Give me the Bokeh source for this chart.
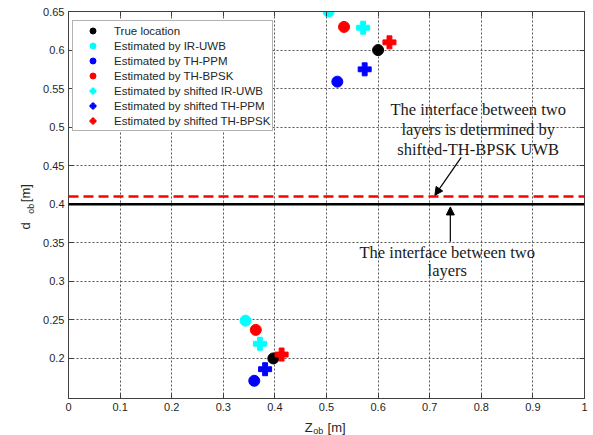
import math
from bokeh.plotting import figure
from bokeh.models import (Span, Label, Arrow, NormalHead, LinearAxis, FixedTicker,
                          Range1d, CustomJSTickFormatter)
from bokeh.embed import file_html
from bokeh.resources import INLINE

# ---- data ----
true_z = [0.600, 0.397]
true_d = [0.600, 0.200]
ir_z = [0.504, 0.343]
ir_d = [0.650, 0.249]
ppm_z = [0.521, 0.360]
ppm_d = [0.559, 0.171]
bpsk_z = [0.534, 0.363]
bpsk_d = [0.630, 0.237]
s_ir_z = [0.571, 0.371]
s_ir_d = [0.629, 0.219]
s_ppm_z = [0.574, 0.381]
s_ppm_d = [0.575, 0.186]
s_bpsk_z = [0.622, 0.413]
s_bpsk_d = [0.610, 0.205]

interface_true = 0.40
interface_est = 0.41

x_ticks = [0, 0.1, 0.2, 0.3, 0.4, 0.5, 0.6, 0.7, 0.8, 0.9, 1]
x_tick_labels = ["0", "0.1", "0.2", "0.3", "0.4", "0.5", "0.6", "0.7", "0.8", "0.9", "1"]
y_ticks = [0.2, 0.25, 0.3, 0.35, 0.4, 0.45, 0.5, 0.55, 0.6, 0.65]
y_tick_labels = ["0.2", "0.25", "0.3", "0.35", "0.4", "0.45", "0.5", "0.55", "0.6", "0.65"]

FONT = "Liberation Sans"
SERIF = "Liberation Serif"
TXT = "#262626"
AX = "#404040"

# frame: 518 x 387 px placed at (66, 11); extra bottom border holds the axis-label panels
p = figure(width=593, height=458, x_range=Range1d(0, 1), y_range=Range1d(0.148, 0.65),
           output_backend="svg", toolbar_location=None,
           min_border_left=66, min_border_right=9, min_border_top=11, min_border_bottom=60)
p.outline_line_color = AX
p.background_fill_color = "white"

for ax, ticks, labels in ((p.xaxis[0], x_ticks, x_tick_labels), (p.yaxis[0], y_ticks, y_tick_labels)):
    ax.ticker = FixedTicker(ticks=ticks)
    ax.major_label_overrides = {t: l for t, l in zip(ticks, labels)}
    ax.major_tick_in = 5
    ax.major_tick_out = 0
    ax.minor_tick_line_color = None
    ax.axis_line_color = AX
    ax.major_tick_line_color = AX
    ax.major_label_text_font = FONT
    ax.major_label_text_font_size = "11px"
    ax.major_label_text_color = TXT
    ax.major_label_standoff = 4

# mirrored ticks on top and right (box axes)
top = LinearAxis(ticker=FixedTicker(ticks=x_ticks), formatter=CustomJSTickFormatter(code="return ''"),
                 major_tick_in=5, major_tick_out=0, minor_tick_line_color=None,
                 axis_line_color=AX, major_tick_line_color=AX, major_label_standoff=0,
                 major_label_text_font_size="1px")
right = LinearAxis(ticker=FixedTicker(ticks=y_ticks), formatter=CustomJSTickFormatter(code="return ''"),
                   major_tick_in=5, major_tick_out=0, minor_tick_line_color=None,
                   axis_line_color=AX, major_tick_line_color=AX, major_label_standoff=0,
                   major_label_text_font_size="1px")
p.add_layout(top, "above")
p.add_layout(right, "right")

p.xgrid.ticker = FixedTicker(ticks=x_ticks[1:-1])
p.ygrid.ticker = FixedTicker(ticks=y_ticks[:-1])
for g in (p.xgrid[0], p.ygrid[0]):
    g.grid_line_color = "#555555"
    g.grid_line_dash = "2 2"
    g.grid_line_width = 1

# interface lines
p.add_layout(Span(location=interface_true, dimension="width", line_color="black", line_width=2.5))
p.add_layout(Span(location=interface_est, dimension="width", line_color="#ff0000",
                  line_width=2.5, line_dash="10 5"))

CS = 11
PS = 13
p.scatter(true_z, true_d, marker="circle", size=CS, color="black", legend_label="True location")
p.scatter(ir_z, ir_d, marker="circle", size=CS, color="#00ffff", legend_label="Estimated by IR-UWB")
p.scatter(ppm_z, ppm_d, marker="circle", size=CS, color="#0000ff", legend_label="Estimated by TH-PPM")
p.scatter(bpsk_z, bpsk_d, marker="circle", size=CS, color="#ff0000", legend_label="Estimated by TH-BPSK")
p.scatter(s_ir_z, s_ir_d, marker="plus", size=PS, color="#00ffff", legend_label="Estimated by shifted IR-UWB")
p.scatter(s_ppm_z, s_ppm_d, marker="plus", size=PS, color="#0000ff", legend_label="Estimated by shifted TH-PPM")
p.scatter(s_bpsk_z, s_bpsk_d, marker="plus", size=PS, color="#ff0000", legend_label="Estimated by shifted TH-BPSK")

lg = p.legend[0]
lg.location = (4, 267)
lg.margin = 0
lg.padding = 2
lg.spacing = 0
lg.label_height = 15
lg.glyph_height = 15
lg.glyph_width = 35
lg.label_standoff = 4
lg.label_text_font = FONT
lg.label_text_font_size = "11.5px"
lg.label_text_color = TXT
lg.border_line_color = "#666666"
lg.background_fill_color = "white"
lg.background_fill_alpha = 1

# annotations
def txt(x, y, s):
    p.add_layout(Label(x=x, y=y, text=s, text_align="center", text_baseline="middle",
                       text_font=SERIF, text_font_size="16.5px", text_color="#1a1a1a"))

txt(0.794, 0.5227, "The interface between two")
txt(0.794, 0.4969, "layers is determined by")
txt(0.794, 0.4711, "shifted-TH-BPSK UWB")
txt(0.734, 0.3371, "The interface between two")
txt(0.734, 0.3141, "layers")

p.add_layout(Arrow(end=NormalHead(size=8, fill_color="black", line_color="black"),
                   x_start=0.761, y_start=0.4607, x_end=0.710, y_end=0.4116,
                   line_color="black", line_width=1.2))
p.add_layout(Arrow(end=NormalHead(size=8, fill_color="black", line_color="black"),
                   x_start=0.740, y_start=0.3513, x_end=0.740, y_end=0.3965,
                   line_color="black", line_width=1.2))

# axis labels with subscripts: side-panel labels (not clipped), positioned through the scales
def xlab(x, y, s, size):
    p.add_layout(Label(x=x, y=y, text=s, text_align="left", text_baseline="alphabetic",
                       text_font=FONT, text_font_size=size, text_color=TXT), "below")

def ylab(x, y, s, size):
    p.add_layout(Label(x=x, y=y, text=s, angle=math.pi / 2,
                       text_align="left", text_baseline="alphabetic",
                       text_font=FONT, text_font_size=size, text_color=TXT), "left")

xlab(0.458, 0.1108, "Z", "13px")
xlab(0.4745, 0.1055, "ob", "9px")
xlab(0.502, 0.1104, "[m]", "13px")

ylab(-0.0824, 0.3672, "d", "13px")
ylab(-0.0728, 0.3876, "ob", "9px")
ylab(-0.0824, 0.4026, "[m]", "13px")

open("out.html", "w").write(file_html(p, INLINE))
